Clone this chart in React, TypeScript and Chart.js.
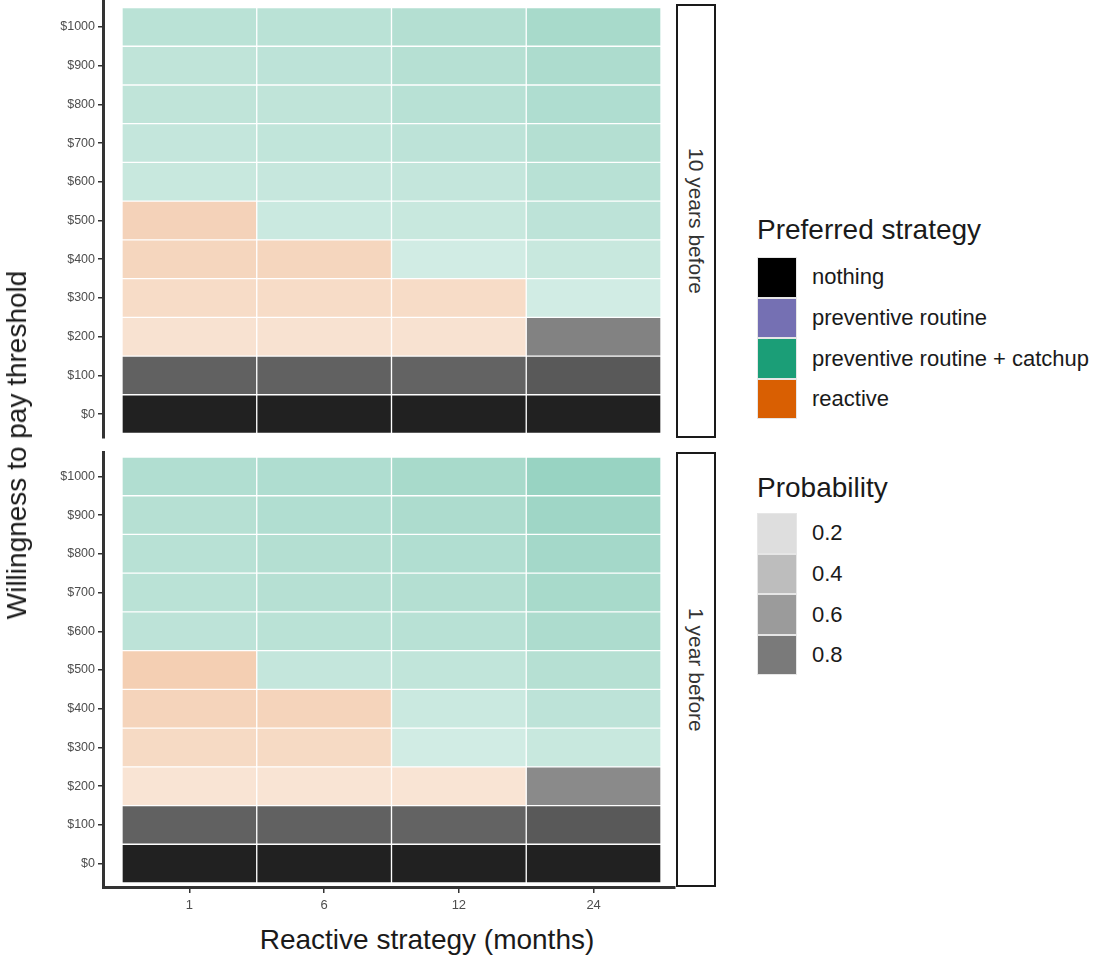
import React, { useEffect, useRef } from 'react';
import { Chart, registerables } from 'chart.js';

Chart.register(...registerables);

// Categories
const months = ['1', '6', '12', '24'];
const thresholds = ['$0', '$100', '$200', '$300', '$400', '$500', '$600', '$700', '$800', '$900', '$1000'];
const panelLabels = ['10 years before', '1 year before'];

// Strategy palette
const strategies = ['nothing', 'preventive routine', 'preventive routine + catchup', 'reactive'];
const strategyColors = ['#000000', '#7570B3', '#1B9E77', '#D95F02'];
const probabilityBreaks = [0.2, 0.4, 0.6, 0.8];

// Strategy index codes
const N = 0; // nothing
const C = 2; // preventive routine + catchup
const R = 3; // reactive

// Preferred strategy per threshold row ($0 first), one column per reactive interval
const strategyTenYears = [
  [N, N, N, N],
  [N, N, N, N],
  [R, R, R, N],
  [R, R, R, C],
  [R, R, C, C],
  [R, C, C, C],
  [C, C, C, C],
  [C, C, C, C],
  [C, C, C, C],
  [C, C, C, C],
  [C, C, C, C],
];
const probabilityTenYears = [
  [0.87, 0.87, 0.87, 0.87],
  [0.62, 0.62, 0.61, 0.65],
  [0.18, 0.18, 0.18, 0.49],
  [0.22, 0.22, 0.22, 0.2],
  [0.26, 0.26, 0.2, 0.24],
  [0.28, 0.23, 0.24, 0.29],
  [0.24, 0.25, 0.26, 0.31],
  [0.26, 0.27, 0.29, 0.33],
  [0.28, 0.28, 0.31, 0.35],
  [0.28, 0.29, 0.32, 0.36],
  [0.3, 0.3, 0.33, 0.38],
];

const strategyOneYear = [
  [N, N, N, N],
  [N, N, N, N],
  [R, R, R, N],
  [R, R, C, C],
  [R, R, C, C],
  [R, C, C, C],
  [C, C, C, C],
  [C, C, C, C],
  [C, C, C, C],
  [C, C, C, C],
  [C, C, C, C],
];
const probabilityOneYear = [
  [0.87, 0.87, 0.87, 0.87],
  [0.62, 0.62, 0.61, 0.65],
  [0.17, 0.17, 0.17, 0.46],
  [0.23, 0.23, 0.2, 0.24],
  [0.27, 0.27, 0.23, 0.29],
  [0.3, 0.26, 0.27, 0.32],
  [0.29, 0.3, 0.31, 0.36],
  [0.3, 0.32, 0.33, 0.38],
  [0.31, 0.33, 0.34, 0.4],
  [0.32, 0.34, 0.36, 0.42],
  [0.34, 0.35, 0.38, 0.45],
];

const FONT = '"Liberation Sans", Arial, Helvetica, sans-serif';

function withAlpha(hex: string, a: number) {
  const r = parseInt(hex.slice(1, 3), 16);
  const g = parseInt(hex.slice(3, 5), 16);
  const b = parseInt(hex.slice(5, 7), 16);
  return `rgba(${r},${g},${b},${a})`;
}

function tileDatasets(strategy: number[][], probability: number[][]) {
  return thresholds.map((label, row) => ({
    label,
    data: months.map((_, col) => ({ x: col, y: [row - 0.5, row + 0.5] })),
    backgroundColor: months.map((_, col) =>
      withAlpha(strategyColors[strategy[row][col]], probability[row][col])
    ),
    borderColor: 'rgba(255,255,255,0.3)',
    borderWidth: 1,
    borderSkipped: false,
    grouped: false,
    barPercentage: 1,
    categoryPercentage: 1,
  }));
}

function panelConfig(
  strategy: number[][],
  probability: number[][],
  yRange: [number, number],
  padding: { top: number; bottom: number },
  showX: boolean
): any {
  return {
    type: 'bar',
    data: { datasets: tileDatasets(strategy, probability) },
    options: {
      responsive: false,
      maintainAspectRatio: false,
      animation: false,
      events: [],
      layout: { padding: { left: 0, right: 5, top: padding.top, bottom: padding.bottom } },
      plugins: { legend: { display: false }, tooltip: { enabled: false } },
      scales: {
        x: {
          type: 'linear',
          display: showX,
          offset: false,
          bounds: 'data',
          min: -0.641,
          max: 3.604,
          afterBuildTicks: (scale: any) => {
            scale.ticks = months.map((_, i) => ({ value: i }));
          },
          afterFit: (scale: any) => {
            if (showX) scale.height = 33;
          },
          ticks: {
            autoSkip: false,
            maxRotation: 0,
            padding: 5,
            color: '#4d4d4d',
            font: { family: FONT, size: 13 },
            callback: (v: number) => months[v],
          },
          grid: {
            offset: false,
            drawOnChartArea: false,
            drawTicks: true,
            tickLength: 6,
            color: '#333333',
            lineWidth: 1.5,
          },
          border: { display: true, color: '#333333', width: 3 },
        },
        y: {
          type: 'linear',
          offset: false,
          bounds: 'data',
          min: yRange[0],
          max: yRange[1],
          afterBuildTicks: (scale: any) => {
            scale.ticks = thresholds.map((_, i) => ({ value: i }));
          },
          afterFit: (scale: any) => {
            scale.width = 103;
          },
          ticks: {
            autoSkip: false,
            padding: 3,
            color: '#4d4d4d',
            font: { family: FONT, size: 12.5 },
            callback: (v: number) => thresholds[v],
          },
          grid: {
            offset: false,
            drawOnChartArea: false,
            drawTicks: true,
            tickLength: 5,
            color: '#333333',
            lineWidth: 1.5,
          },
          border: { display: true, color: '#333333', width: 3 },
        },
      },
    },
  };
}

function Strip({ top, height, text }: { top: number; height: number; text: string }) {
  return (
    <div
      style={{
        position: 'absolute',
        left: 676,
        top,
        width: 40,
        height,
        boxSizing: 'border-box',
        border: '2px solid #1a1a1a',
        display: 'flex',
        alignItems: 'center',
        justifyContent: 'center',
        background: '#ffffff',
      }}
    >
      <span style={{ writingMode: 'vertical-rl', fontSize: 21, color: '#333333', whiteSpace: 'nowrap' }}>
        {text}
      </span>
    </div>
  );
}

function LegendKeys({ top, colors, labels }: { top: number; colors: string[]; labels: string[] }) {
  return (
    <>
      {colors.map((c, i) => (
        <React.Fragment key={labels[i]}>
          <div
            style={{
              position: 'absolute',
              left: 757,
              top: top + i * 40.6,
              width: 40,
              height: 40.6,
              boxSizing: 'border-box',
              background: c,
              border: '1px solid #e6e6e6',
            }}
          />
          <div
            style={{
              position: 'absolute',
              left: 812,
              top: top + i * 40.6 + 20.3,
              transform: 'translateY(-50%)',
              fontSize: 22,
              color: '#1a1a1a',
              whiteSpace: 'nowrap',
              lineHeight: 1,
            }}
          >
            {labels[i]}
          </div>
        </React.Fragment>
      ))}
    </>
  );
}

export default function App() {
  const topRef = useRef<HTMLCanvasElement>(null);
  const bottomRef = useRef<HTMLCanvasElement>(null);

  useEffect(() => {
    const charts = [
      new Chart(
        topRef.current as HTMLCanvasElement,
        panelConfig(strategyTenYears, probabilityTenYears, [-0.603, 10.655], { top: 10, bottom: 10 }, false)
      ),
      new Chart(
        bottomRef.current as HTMLCanvasElement,
        panelConfig(strategyOneYear, probabilityOneYear, [-0.603, 10.629], { top: 12, bottom: 0 }, true)
      ),
    ];
    return () => charts.forEach((c) => c.destroy());
  }, []);

  return (
    <div
      style={{
        position: 'fixed',
        left: 0,
        top: 0,
        width: 1108,
        height: 959,
        background: '#ffffff',
        overflow: 'hidden',
        fontFamily: FONT,
      }}
    >
      <canvas ref={topRef} width={680} height={457} style={{ position: 'absolute', left: 0, top: -9 }} />
      <canvas ref={bottomRef} width={680} height={480} style={{ position: 'absolute', left: 0, top: 440 }} />

      <Strip top={4} height={434} text={panelLabels[0]} />
      <Strip top={452} height={435} text={panelLabels[1]} />

      <div
        style={{
          position: 'absolute',
          left: 17,
          top: 445,
          transform: 'translate(-50%, -50%) rotate(-90deg)',
          fontSize: 28,
          color: '#1a1a1a',
          whiteSpace: 'nowrap',
          lineHeight: 1,
        }}
      >
        Willingness to pay threshold
      </div>
      <div
        style={{
          position: 'absolute',
          left: 427,
          top: 940,
          transform: 'translate(-50%, -50%)',
          fontSize: 28,
          color: '#1a1a1a',
          whiteSpace: 'nowrap',
          lineHeight: 1,
        }}
      >
        Reactive strategy (months)
      </div>

      <div
        style={{
          position: 'absolute',
          left: 757,
          top: 230,
          transform: 'translateY(-50%)',
          fontSize: 28,
          color: '#1a1a1a',
          whiteSpace: 'nowrap',
          lineHeight: 1,
        }}
      >
        Preferred strategy
      </div>
      <LegendKeys top={257} colors={strategyColors} labels={strategies} />

      <div
        style={{
          position: 'absolute',
          left: 757,
          top: 488,
          transform: 'translateY(-50%)',
          fontSize: 28,
          color: '#1a1a1a',
          whiteSpace: 'nowrap',
          lineHeight: 1,
        }}
      >
        Probability
      </div>
      <LegendKeys
        top={513}
        colors={probabilityBreaks.map((p) => withAlpha('#595959', p))}
        labels={probabilityBreaks.map((p) => p.toFixed(1))}
      />
    </div>
  );
}
